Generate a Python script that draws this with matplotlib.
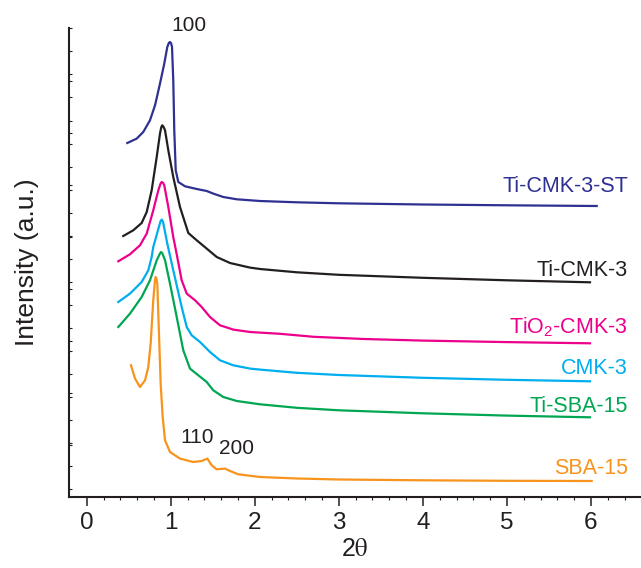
import matplotlib
matplotlib.use('Agg')
import matplotlib.pyplot as plt
import numpy as np

plt.rcParams['font.family'] = ['Liberation Sans', 'DejaVu Sans']
plt.rcParams['mathtext.fontset'] = 'custom'
plt.rcParams['mathtext.rm'] = 'Liberation Sans'
plt.rcParams['mathtext.it'] = 'Liberation Sans:italic'

# Data (2theta, intensity in arbitrary units, curves already offset)
st_x = [0.483, 0.595, 0.673, 0.753, 0.813, 0.872, 0.923, 0.959, 0.978, 0.991, 1.004,
        1.015, 1.030, 1.042, 1.059, 1.090, 1.170, 1.309, 1.428, 1.506, 1.625, 1.785,
        2.062, 2.5, 3.0, 4.0, 5.0, 6.068]
st_y = [354.3, 358.7, 365.3, 377, 392, 413.7, 433.7, 450.3, 454.5, 455.3, 454,
        450.3, 417, 367, 327, 315.3, 311, 308.3, 306.3, 303.7, 300.3, 298,
        296.3, 295, 294, 292.8, 292, 291.3]

ticmk_x = [0.435, 0.554, 0.654, 0.714, 0.773, 0.833, 0.872, 0.887, 0.899, 0.914, 0.932,
           0.971, 1.030, 1.110, 1.209, 1.309, 1.428, 1.547, 1.705, 1.943, 2.062, 2.5,
           3.0, 4.0, 5.0, 5.988]
ticmk_y = [261.3, 267, 274.3, 285.3, 307, 340.3, 363.7, 370, 372, 370.5, 367,
           347, 320.3, 290.3, 264.3, 257, 248.7, 240.3, 234.3, 229.7, 228.3, 225,
           222.5, 219.5, 217, 215]

tio2_x = [0.376, 0.515, 0.634, 0.714, 0.792, 0.852, 0.878, 0.892, 0.908, 0.923, 0.971,
          1.030, 1.071, 1.130, 1.190, 1.289, 1.368, 1.467, 1.586, 1.744, 1.943, 2.062,
          2.3, 2.7, 3.3, 4.0, 5.0, 5.988]
tio2_y = [236, 243, 252, 263.7, 287, 307, 313.5, 315.3, 314.5, 312, 290.3,
          260.3, 243, 217, 203.7, 197, 190.3, 180.3, 172, 167.7, 165.3, 164.7,
          163.5, 160.5, 158.3, 156.7, 155.2, 154]

cmk_x = [0.376, 0.515, 0.654, 0.733, 0.773, 0.792, 0.878, 0.892, 0.908, 0.959, 1.030,
         1.130, 1.190, 1.249, 1.348, 1.467, 1.586, 1.744, 1.943, 2.062, 2.5, 3.0,
         4.0, 5.0, 5.988]
cmk_y = [195.3, 203.7, 215.3, 227, 240.3, 250.3, 276, 277.7, 275.5, 253.7, 227,
         190.3, 170.3, 162, 155.3, 145.3, 137, 132, 128.7, 127.7, 124.5, 122.3,
         119.5, 117.5, 116]

tisba_x = [0.376, 0.515, 0.654, 0.753, 0.833, 0.870, 0.884, 0.900, 0.932, 0.991, 1.071,
           1.149, 1.229, 1.328, 1.428, 1.506, 1.625, 1.785, 2.062, 2.5, 3.0, 4.0,
           5.0, 5.988]
tisba_y = [170.3, 183.7, 200.3, 217, 237, 243.5, 245.3, 244, 237, 213.7, 180.3,
           147, 128.7, 122, 115.3, 107, 100.3, 96.3, 93, 89.5, 87, 84,
           81.7, 80]

sba_x = [0.527, 0.575, 0.634, 0.694, 0.733, 0.761, 0.792, 0.812, 0.821, 0.830, 0.840,
         0.860, 0.880, 0.904, 0.932, 0.991, 1.110, 1.268, 1.368, 1.435, 1.487, 1.547,
         1.645, 1.705, 1.804, 2.062, 2.5, 3.0, 4.0, 5.0, 6.008]
sba_y = [132, 118.7, 110.3, 117, 130.3, 153.7, 197, 217, 220.3, 218.5, 213.7,
         163.7, 113.7, 80.3, 57, 45.3, 38.7, 35.3, 36.3, 38.7, 32, 28,
         28.7, 26.3, 23, 20.3, 18.8, 17.8, 17, 16.5, 16.3]

series = [
    (st_x, st_y, '#2E3192', 'Ti-CMK-3-ST', 305.3),
    (ticmk_x, ticmk_y, '#231F20', 'Ti-CMK-3', 221),
    (tio2_x, tio2_y, '#EC008C', 'TiO$_2$-CMK-3', 164.3),
    (cmk_x, cmk_y, '#00AEEF', 'CMK-3', 123.7),
    (tisba_x, tisba_y, '#00A651', 'Ti-SBA-15', 85.3),
    (sba_x, sba_y, '#F7941D', 'SBA-15', 23),
]

fig = plt.figure(figsize=(6.41, 5.68), dpi=100)
ax = fig.add_axes([69.3 / 641, 70.7 / 568, (641 - 69.3) / 641, 469.3 / 568])

for x, y, c, name, ly in series:
    ax.plot(x, y, color=c, lw=1.6, solid_joinstyle='round')
    ax.text(6.44, ly, name, color=c, fontsize=15.5, ha='right', va='baseline')

# reflection indices
ax.text(1.213, 466.3, '100', fontsize=15, ha='center', va='baseline', color='#231F20')
ax.text(1.309, 54.3, '110', fontsize=15, ha='center', va='baseline', color='#231F20')
ax.text(1.786, 43, '200', fontsize=15, ha='center', va='baseline', color='#231F20')

ax.set_xlim(-0.207, 6.595)
ax.set_ylim(0, 469.3)
ax.spines['top'].set_visible(False)
ax.spines['right'].set_visible(False)
for s in ['left', 'bottom']:
    ax.spines[s].set_linewidth(1.5)
    ax.spines[s].set_color('#231F20')

ax.set_xticks(np.arange(0, 7, 1))
ax.set_xticks(np.arange(0, 6.6, 0.2), minor=True)
ax.tick_params(axis='x', which='major', direction='out', length=6.5, width=1.1,
               labelsize=17.5, pad=4, colors='#231F20')
ax.tick_params(axis='x', which='minor', direction='out', length=2, width=0.8, colors='#231F20')

# y axis: unlabeled inward ticks
ax.set_yticks(np.linspace(8, 469, 21))
ax.set_yticks(np.arange(1, 9) * 52.1, minor=True)
ax.tick_params(axis='y', which='both', direction='in', length=2.5, width=0.8,
               labelleft=False, colors='#231F20')

ax.set_xlabel(r'2$\mathrm{\theta}$', fontsize=18, math_fontfamily='stix', labelpad=2, color='#231F20')
ax.set_ylabel('Intensity (a.u.)', fontsize=19, labelpad=22, color='#231F20')

fig.savefig('out.png', dpi=100)
